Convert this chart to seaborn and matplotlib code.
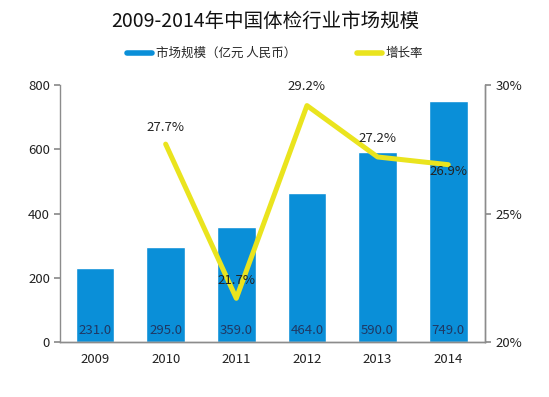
import matplotlib
matplotlib.use("Agg")
import matplotlib.pyplot as plt
import seaborn as sns
import pandas as pd
from matplotlib.lines import Line2D

sns.set_theme(style="white")
plt.rcParams['font.family'] = ['Noto Sans CJK SC', 'DejaVu Sans']

years = ['2009', '2010', '2011', '2012', '2013', '2014']
market_size = [231.0, 295.0, 359.0, 464.0, 590.0, 749.0]
growth_years = ['2010', '2011', '2012', '2013', '2014']
growth_rate = [27.7, 21.7, 29.2, 27.2, 26.9]

title = '2009-2014年中国体检行业市场规模'
legend_bar = '市场规模（亿元 人民币）'
legend_line = '增长率'

bar_color = '#0A8FD8'
line_color = '#EAE41E'
label_color = '#1F3864'
spine_color = '#8C8C8C'
# label vertical offsets (styling, in percentage points)
rate_label_offsets = [0.65, 0.7, 0.75, 0.7, -0.25]

df = pd.DataFrame({'year': years, 'size': market_size})
gdf = pd.DataFrame({'pos': [years.index(y) for y in growth_years], 'rate': growth_rate})

fig = plt.figure(figsize=(5.49, 3.97), dpi=100)
ax = fig.add_axes([0.110, 0.1385, 0.7734, 0.6474])
sns.barplot(data=df, x='year', y='size', color=bar_color, width=0.55, ax=ax, saturation=1)
ax.set_ylim(0, 800)
ax.set_yticks([0, 200, 400, 600, 800])
ax.set_xlim(-0.49, 5.52)
ax.set_xlabel('')
ax.set_ylabel('')
for i, v in enumerate(market_size):
    ax.text(i, 35, f'{v:.1f}', ha='center', va='center', color=label_color, fontsize=9.5)

ax2 = ax.twinx()
sns.lineplot(data=gdf, x='pos', y='rate', color=line_color, linewidth=3.6, ax=ax2)
ax2.set_ylim(20, 30)
ax2.set_yticks([20, 25, 30])
ax2.set_yticklabels(['20%', '25%', '30%'])
ax2.set_xlim(-0.49, 5.52)
ax2.set_ylabel('')
ax2.set_xlabel('')
for p, r, off in zip(gdf['pos'], gdf['rate'], rate_label_offsets):
    ax2.text(p, r + off, f'{r:.1f}%', ha='center', va='center', color='#222222', fontsize=9.5)

for a in (ax, ax2):
    a.spines['top'].set_visible(False)
    for s in ['left', 'right', 'bottom']:
        a.spines[s].set_color(spine_color)
        a.spines[s].set_linewidth(1.0)
    a.tick_params(axis='both', labelsize=9.5, colors='#222222', length=4, color=spine_color)
ax.tick_params(axis='x', length=0, pad=8)
ax.tick_params(axis='y', direction='out', left=True)
ax2.tick_params(axis='y', direction='out', right=True)
ax2.spines['left'].set_visible(False)

fig.text(0.483, 0.945, title, ha='center', va='center', fontsize=14, color='#111111',
         fontweight='medium')
handles = [Line2D([0], [0], color=bar_color, lw=4),
           Line2D([0], [0], color=line_color, lw=4)]
fig.legend(handles, [legend_bar, legend_line], loc='center', bbox_to_anchor=(0.501, 0.865),
           ncol=2, frameon=False, fontsize=9, handlelength=2.0, handletextpad=0.3,
           columnspacing=4.9)

fig.savefig('out.png', dpi=100, facecolor='white')
